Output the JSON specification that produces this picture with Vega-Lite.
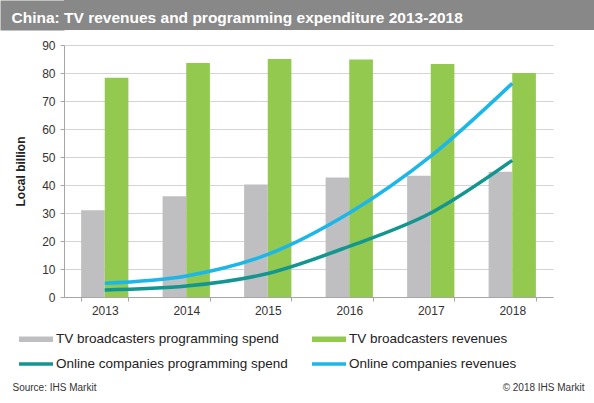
{
  "$schema": "https://vega.github.io/schema/vega-lite/v6.json",
  "description": "China: TV revenues and programming expenditure 2013-2018",
  "background": "white",
  "padding": {"left": 0, "top": 0, "right": 0, "bottom": 11},
  "spacing": 9,
  "config": {
    "font": "Liberation Sans",
    "view": {"stroke": null}
  },
  "vconcat": [
    {
      "width": 530,
      "height": 30,
      "view": {"fill": "#888888", "stroke": null},
      "data": {"values": []},
      "mark": "point",
      "encoding": {
        "x": {
          "field": "h",
          "type": "quantitative",
          "scale": {"domain": [0, 1]},
          "axis": {
            "title": "China: TV revenues and programming expenditure 2013-2018",
            "titleX": -53,
            "titleY": -7.5,
            "titleAlign": "left",
            "titleBaseline": "alphabetic",
            "titleColor": "white",
            "titleFont": "Liberation Sans",
            "titleFontSize": 15.5,
            "titleFontWeight": "bold",
            "labels": false,
            "ticks": false,
            "domain": false,
            "grid": false,
            "zindex": 2
          }
        },
        "y": {
          "field": "v",
          "type": "quantitative",
          "scale": {"domain": [0, 1]},
          "axis": {
            "title": null,
            "labels": false,
            "ticks": false,
            "grid": false,
            "domain": true,
            "domainColor": "#888888",
            "domainWidth": 64,
            "offset": 32,
            "minExtent": 0,
            "maxExtent": 32,
            "zindex": 0
          }
        }
      }
    },
    {
      "width": 489,
      "height": 252,
      "data": {
        "values": [
          {"year": "2013", "series": "TV broadcasters programming spend", "type": "bar", "value": 31.0},
          {"year": "2014", "series": "TV broadcasters programming spend", "type": "bar", "value": 36.0},
          {"year": "2015", "series": "TV broadcasters programming spend", "type": "bar", "value": 40.2},
          {"year": "2016", "series": "TV broadcasters programming spend", "type": "bar", "value": 42.7},
          {"year": "2017", "series": "TV broadcasters programming spend", "type": "bar", "value": 43.3},
          {"year": "2018", "series": "TV broadcasters programming spend", "type": "bar", "value": 44.7},
          {"year": "2013", "series": "TV broadcasters revenues", "type": "bar", "value": 78.3},
          {"year": "2014", "series": "TV broadcasters revenues", "type": "bar", "value": 83.6},
          {"year": "2015", "series": "TV broadcasters revenues", "type": "bar", "value": 85.0},
          {"year": "2016", "series": "TV broadcasters revenues", "type": "bar", "value": 84.8},
          {"year": "2017", "series": "TV broadcasters revenues", "type": "bar", "value": 83.2},
          {"year": "2018", "series": "TV broadcasters revenues", "type": "bar", "value": 80.0},
          {"year": "2013", "series": "Online companies programming spend", "type": "line", "value": 2.5},
          {"year": "2014", "series": "Online companies programming spend", "type": "line", "value": 3.9},
          {"year": "2015", "series": "Online companies programming spend", "type": "line", "value": 8.4},
          {"year": "2016", "series": "Online companies programming spend", "type": "line", "value": 18.1},
          {"year": "2017", "series": "Online companies programming spend", "type": "line", "value": 30.0},
          {"year": "2018", "series": "Online companies programming spend", "type": "line", "value": 48.8},
          {"year": "2013", "series": "Online companies revenues", "type": "line", "value": 4.9},
          {"year": "2014", "series": "Online companies revenues", "type": "line", "value": 7.5},
          {"year": "2015", "series": "Online companies revenues", "type": "line", "value": 15.2},
          {"year": "2016", "series": "Online companies revenues", "type": "line", "value": 30.0},
          {"year": "2017", "series": "Online companies revenues", "type": "line", "value": 50.3},
          {"year": "2018", "series": "Online companies revenues", "type": "line", "value": 76.3}
        ]
      },
      "encoding": {
        "x": {
          "field": "year",
          "type": "nominal",
          "scale": {"paddingInner": 0.42, "paddingOuter": 0.21},
          "axis": {
            "title": "Source: IHS Markit",
            "titleX": -52,
            "titleY": 90,
            "titleAlign": "left",
            "titleBaseline": "middle",
            "titleFontSize": 10,
            "titleFontWeight": "normal",
            "titleColor": "#333333",
            "labelAngle": 0,
            "labelFontSize": 12,
            "labelColor": "#333333",
            "labelPadding": 4,
            "tickBand": "extent",
            "tickSize": 4,
            "tickColor": "#a6a6a6",
            "domainColor": "#a6a6a6",
            "grid": false
          }
        },
        "color": {
          "field": "series",
          "type": "nominal",
          "scale": {
            "domain": [
              "TV broadcasters programming spend",
              "TV broadcasters revenues",
              "Online companies programming spend",
              "Online companies revenues"
            ],
            "range": ["#bfbfc1", "#92c94e", "#12968f", "#1cb7e8"]
          },
          "legend": {
            "title": null,
            "orient": "none",
            "legendX": -45,
            "legendY": 322,
            "direction": "horizontal",
            "columns": 2,
            "columnPadding": 24,
            "rowPadding": 1,
            "symbolSize": 1156,
            "labelOffset": 3,
            "labelFontSize": 13.5,
            "labelColor": "#222222",
            "labelLimit": 400,
            "encode": {
              "symbols": {
                "update": {
                  "shape": {"signal": "test(/^TV/, datum.value) ? 'M-1,-0.16H1V0.16H-1Z' : 'M-1,-0.1H1V0.1H-1Z'"},
                  "fill": {"signal": "datum.value === 'TV broadcasters programming spend' ? '#bfbfc1' : datum.value === 'TV broadcasters revenues' ? '#92c94e' : datum.value === 'Online companies programming spend' ? '#12968f' : '#1cb7e8'"},
                  "strokeWidth": {"value": 0},
                  "opacity": {"value": 1},
                  "fillOpacity": {"value": 1}
                }
              }
            }
          }
        }
      },
      "layer": [
        {
          "transform": [{"filter": "datum.type === 'bar'"}],
          "mark": {"type": "bar"},
          "encoding": {
            "xOffset": {"field": "series", "type": "nominal"},
            "y": {
              "field": "value",
              "type": "quantitative",
              "scale": {"domain": [0, 90], "nice": false},
              "axis": {
                "title": "Local billion",
                "titleX": -44,
                "titleBaseline": "middle",
                "titleFontSize": 12,
                "titleFontWeight": "bold",
                "titleColor": "#222222",
                "values": [0, 10, 20, 30, 40, 50, 60, 70, 80, 90],
                "labelFontSize": 12,
                "labelColor": "#333333",
                "labelPadding": 5,
                "tickSize": 4,
                "tickColor": "#a6a6a6",
                "domainColor": "#a6a6a6",
                "gridColor": "#d4d4d4",
                "minExtent": 64
              }
            }
          }
        },
        {
          "transform": [{"filter": "datum.type === 'line'"}],
          "mark": {"type": "line", "strokeWidth": 3.5, "interpolate": "monotone"},
          "encoding": {
            "y": {
              "field": "value",
              "type": "quantitative",
              "axis": {
                "orient": "right",
                "title": "© 2018 IHS Markit",
                "titleAngle": 0,
                "titleX": 31,
                "titleY": 342,
                "titleAlign": "right",
                "titleBaseline": "middle",
                "titleFontSize": 10,
                "titleFontWeight": "normal",
                "titleColor": "#333333",
                "labels": false,
                "ticks": false,
                "domain": false,
                "grid": false
              }
            }
          }
        }
      ],
      "resolve": {"axis": {"y": "independent"}}
    }
  ]
}
